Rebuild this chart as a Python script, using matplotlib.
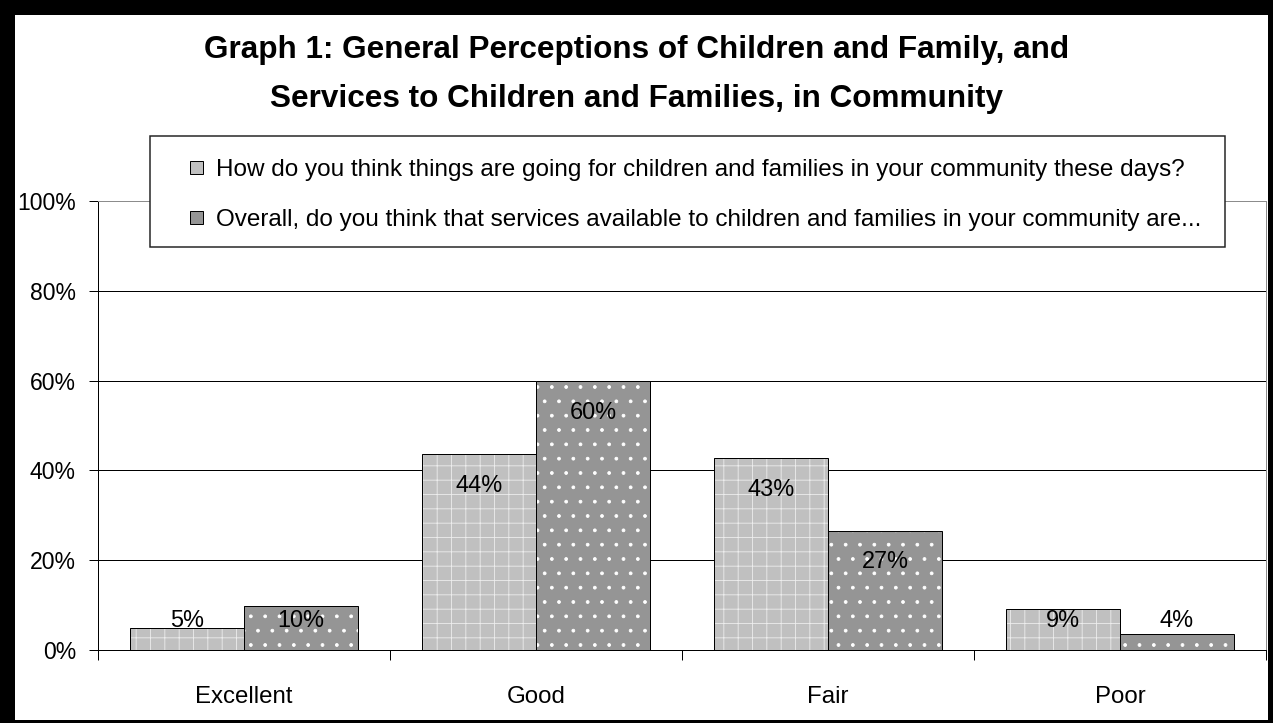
import matplotlib
matplotlib.use("Agg")
import matplotlib.pyplot as plt
import numpy as np
from matplotlib.patches import Rectangle, Patch
from matplotlib.legend_handler import HandlerPatch

# ---- data ----
categories = ["Excellent", "Good", "Fair", "Poor"]
series_names = [
    "How do you think things are going for children and families in your community these days?",
    "Overall, do you think that services available to children and families in your community are...",
]
things_going = [4.9, 43.6, 42.7, 9.2]
services = [9.7, 59.8, 26.6, 3.6]
yticks = [0, 20, 40, 60, 80, 100]
title_lines = [
    "Graph 1: General Perceptions of Children and Family, and",
    "Services to Children and Families, in Community",
]

DPI = 86
W, H = 1273, 723
def px2pt(p):
    return p * 72.0 / DPI

plt.rcParams["font.family"] = ["Liberation Sans", "DejaVu Sans"]
plt.rcParams["hatch.linewidth"] = 0.7

fig = plt.figure(figsize=(W / DPI, H / DPI), dpi=DPI)
fig.patch.set_facecolor("white")

# axes in pixel layout
left, right, top, bottom = 98, 1266, 201, 650
ax = fig.add_axes([left / W, (H - bottom) / H, (right - left) / W, (bottom - top) / H])
ax.set_xlim(-0.5, len(categories) - 0.5)
ax.set_ylim(0, 100)

c1, c2 = "#C0C0C0", "#959595"
x = np.arange(len(categories))
w = 0.39
lw = px2pt(1.0)
ax.bar(x - w / 2, things_going, w, color=c1, edgecolor="#EDEDED", hatch="+", linewidth=0, zorder=2)
ax.bar(x - w / 2, things_going, w, fill=False, edgecolor="black", linewidth=lw, zorder=3)
ax.bar(x + w / 2, services, w, color=c2, edgecolor="white", hatch=".", linewidth=0, zorder=2)
ax.bar(x + w / 2, services, w, fill=False, edgecolor="black", linewidth=lw, zorder=3)

fs = px2pt(23.5)
fs_cat = px2pt(24)
for xs, vals in ((x - w / 2, things_going), (x + w / 2, services)):
    for xi, v in zip(xs, vals):
        ax.text(xi, max(v - 7.0, 6.4), f"{v:.0f}%", ha="center", va="center",
                fontsize=fs, color="black", zorder=4)

# grid
for yv in yticks[1:-1]:
    ax.axhline(yv, color="black", linewidth=lw, zorder=1)

ax.set_yticks(yticks)
ax.set_yticklabels([f"{v}%" for v in yticks], fontsize=px2pt(23))
ax.set_xticks(np.arange(len(categories) + 1) - 0.5)
ax.set_xticklabels([])
ax.set_xticks(x, minor=True)
ax.set_xticklabels(categories, minor=True, fontsize=fs_cat)
ax.tick_params(axis="x", which="major", length=px2pt(10), width=lw, direction="out", color="black")
ax.tick_params(axis="x", which="minor", length=0, pad=px2pt(36))
ax.tick_params(axis="y", length=px2pt(9), width=lw, pad=px2pt(13), color="black")

for s in ("left", "bottom"):
    ax.spines[s].set_color("black")
    ax.spines[s].set_linewidth(lw)
for s in ("top", "right"):
    ax.spines[s].set_color("#8C8C8C")
    ax.spines[s].set_linewidth(lw)

# legend box (drawn explicitly) + legend entries
lx0, lx1, ly0, ly1 = 150, 1225, 136, 247
fig.patches.append(Rectangle((lx0 / W, (H - ly1) / H), (lx1 - lx0) / W, (ly1 - ly0) / H,
                             transform=fig.transFigure, facecolor="white",
                             edgecolor="#222222", linewidth=px2pt(1.5), zorder=9))

sq = px2pt(13)
def make_square(legend, orig_handle, xdescent, ydescent, width, height, fontsize):
    return Rectangle((-xdescent + width - sq, -ydescent + (height - sq) / 2), sq, sq)

handles = [Patch(facecolor=c1, edgecolor="black", linewidth=lw),
           Patch(facecolor=c2, edgecolor="black", linewidth=lw)]
shift = 3.5
leg = fig.legend(handles, series_names,
                 bbox_to_anchor=(lx0 / W, (H - ly1 - shift) / H, (lx1 - lx0) / W, (ly1 - ly0) / H),
                 bbox_transform=fig.transFigure, loc="center", mode="expand",
                 borderaxespad=0, fontsize=px2pt(24.2), frameon=False,
                 borderpad=0.78, labelspacing=1.13, handlelength=1.43, handleheight=0.6,
                 handletextpad=0.5,
                 handler_map={Patch: HandlerPatch(patch_func=make_square)})
leg.set_zorder(10)

# title
tfs = px2pt(31.5)
fig.text(0.5, (H - 58) / H, title_lines[0], ha="center", va="baseline",
         fontsize=tfs, fontweight="bold")
fig.text(0.5, (H - 107) / H, title_lines[1], ha="center", va="baseline",
         fontsize=tfs, fontweight="bold")

# outer black frame
def band(x0, y0, x1, y1):
    fig.patches.append(Rectangle((x0 / W, (H - y1) / H), (x1 - x0) / W, (y1 - y0) / H,
                                 transform=fig.transFigure, facecolor="black",
                                 edgecolor="none", zorder=20))
band(0, 0, 15, H)
band(0, 0, W, 15)
band(1268, 0, W, H)
band(0, 720, W, H)

fig.savefig("out.png", dpi=DPI)
